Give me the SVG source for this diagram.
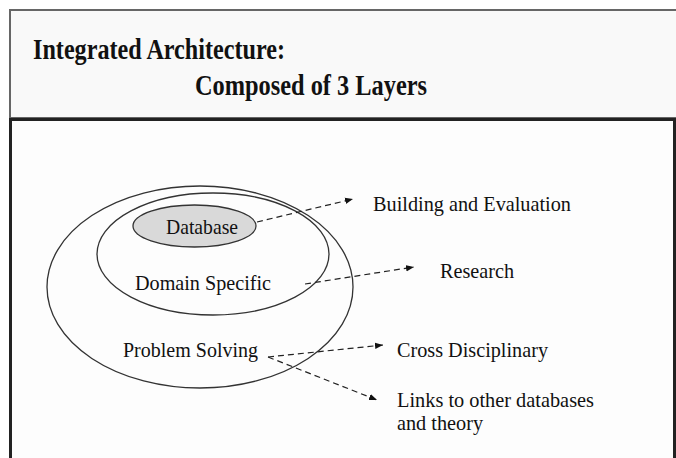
<svg xmlns="http://www.w3.org/2000/svg" width="676" height="458" viewBox="0 0 676 458">
<style>
.title{font-family:"Liberation Serif","Times New Roman",serif;font-weight:bold;font-size:29px;fill:#111}
.lbl{font-family:"Liberation Serif","Times New Roman",serif;font-size:21.5px;fill:#111}
.ring{fill:none;stroke:#333;stroke-width:1.3}
.conn{fill:none;stroke:#222;stroke-width:1.2;stroke-dasharray:6 4}
</style>
<defs>
<marker id="ah" viewBox="0 0 10 10" refX="10" refY="5" markerWidth="8" markerHeight="8" markerUnits="userSpaceOnUse" orient="auto">
<path d="M0,1 L10,5 L0,9 Z" fill="#111"/>
</marker>
</defs>
<rect x="0" y="0" width="676" height="458" fill="#ffffff"/>
<g id="header">
<rect x="10" y="10" width="700" height="108" fill="#f9f9f9" stroke="#666" stroke-width="2"/>
<text class="title" x="33" y="59" textLength="252" lengthAdjust="spacingAndGlyphs">Integrated Architecture:</text>
<text class="title" x="195" y="95" textLength="232" lengthAdjust="spacingAndGlyphs">Composed of 3 Layers</text>
</g>
<g id="panel">
<rect x="10.5" y="119.5" width="664" height="360" fill="#fdfdfd" stroke="#222" stroke-width="3"/>
</g>
<g id="problem-solving">
<ellipse class="ring" cx="200" cy="287" rx="153" ry="101"/>
<text class="lbl" x="123" y="357" textLength="135" lengthAdjust="spacingAndGlyphs">Problem Solving</text>
</g>
<g id="domain-specific">
<ellipse class="ring" cx="213" cy="254" rx="116" ry="61"/>
<text class="lbl" x="135" y="290" textLength="136" lengthAdjust="spacingAndGlyphs">Domain Specific</text>
</g>
<g id="database">
<ellipse cx="194.5" cy="226" rx="61.5" ry="21" fill="#d9d9d9" stroke="#333" stroke-width="1.3"/>
<text class="lbl" x="166" y="234" textLength="72" lengthAdjust="spacingAndGlyphs">Database</text>
</g>
<g id="building">
<text class="lbl" x="373" y="211" textLength="198" lengthAdjust="spacingAndGlyphs">Building and Evaluation</text>
</g>
<g id="research">
<text class="lbl" x="440" y="278" textLength="74" lengthAdjust="spacingAndGlyphs">Research</text>
</g>
<g id="cross">
<text class="lbl" x="397" y="357" textLength="151" lengthAdjust="spacingAndGlyphs">Cross Disciplinary</text>
</g>
<g id="links">
<text class="lbl" x="397" y="407" textLength="197" lengthAdjust="spacingAndGlyphs">Links to other databases</text>
<text class="lbl" x="397" y="430" textLength="86" lengthAdjust="spacingAndGlyphs">and theory</text>
</g>
<g id="connectors">
<line class="conn" x1="257" y1="222" x2="353" y2="199" marker-end="url(#ah)"/>
<line class="conn" x1="305" y1="284" x2="414" y2="267" marker-end="url(#ah)"/>
<line class="conn" x1="268" y1="357" x2="383" y2="345" marker-end="url(#ah)"/>
<line class="conn" x1="268" y1="357" x2="377" y2="400" marker-end="url(#ah)"/>
</g>
</svg>
